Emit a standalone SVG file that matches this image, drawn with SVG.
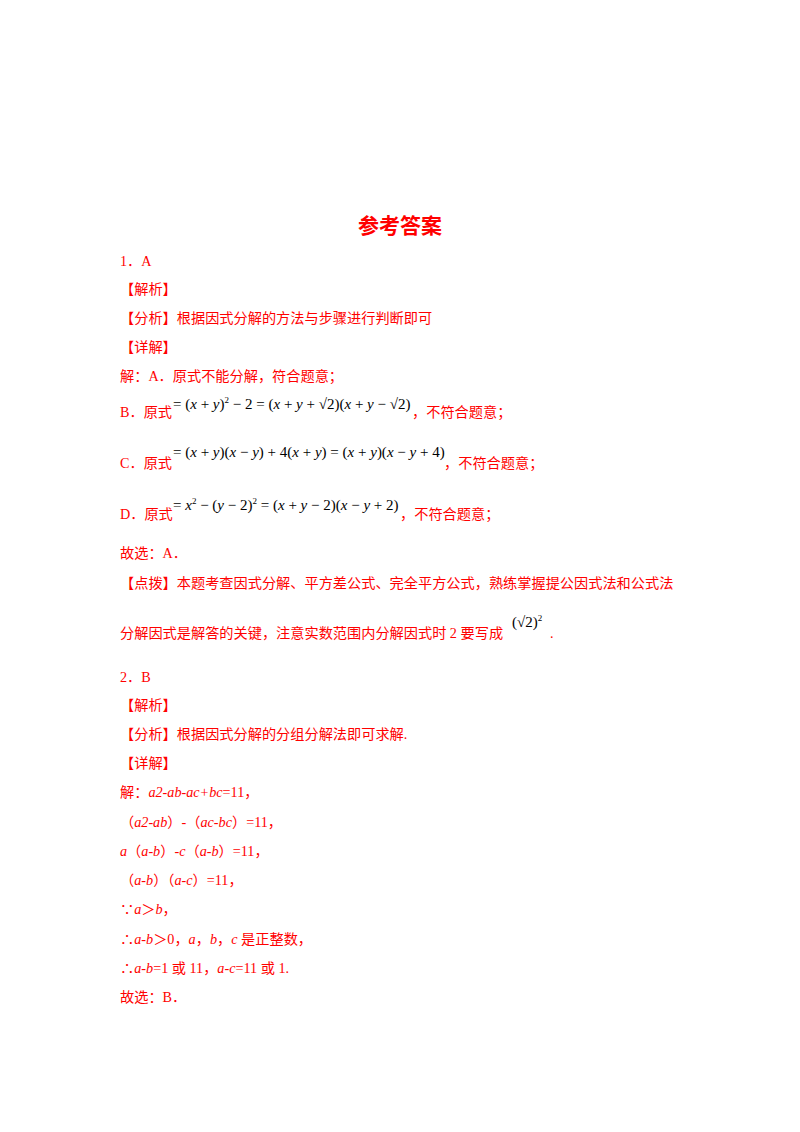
<svg xmlns="http://www.w3.org/2000/svg" width="800" height="1132" viewBox="0 0 800 1132">
<style>
text{font-family:"Liberation Serif","Noto Sans CJK SC",serif;font-size:14.2px;fill:#ff0000}
.t{font-size:21px;font-weight:bold}
.m{fill:#000;font-size:15px}
.s{fill:#000;font-size:9px}
</style>
<rect width="800" height="1132" fill="#fff"/>
<g id="content">
<text class="t" x="400" y="233" text-anchor="middle">参考答案</text>
<text x="120" y="266">1．A</text>
<text x="120" y="294">【解析】</text>
<text x="120" y="323">【分析】根据因式分解的方法与步骤进行判断即可</text>
<text x="120" y="352">【详解】</text>
<text x="120" y="381">解：A．原式不能分解，符合题意；</text>
<text x="120" y="417">B．原式</text>
<text class="m" x="173" y="409">= (<tspan font-style="italic">x</tspan> + <tspan font-style="italic">y</tspan>)<tspan class="s" dy="-6">2</tspan><tspan dy="6"> − 2 = (</tspan><tspan font-style="italic">x</tspan> + <tspan font-style="italic">y</tspan> + √2)(<tspan font-style="italic">x</tspan> + <tspan font-style="italic">y</tspan> − √2)</text>
<text x="412" y="417">，不符合题意；</text>
<text x="120" y="468">C．原式</text>
<text class="m" x="173" y="457">= (<tspan font-style="italic">x</tspan> + <tspan font-style="italic">y</tspan>)(<tspan font-style="italic">x</tspan> − <tspan font-style="italic">y</tspan>) + 4(<tspan font-style="italic">x</tspan> + <tspan font-style="italic">y</tspan>) = (<tspan font-style="italic">x</tspan> + <tspan font-style="italic">y</tspan>)(<tspan font-style="italic">x</tspan> − <tspan font-style="italic">y</tspan> + 4)</text>
<text x="444" y="468">，不符合题意；</text>
<text x="120" y="519">D．原式</text>
<text class="m" x="173" y="510">= <tspan font-style="italic">x</tspan><tspan class="s" dy="-6">2</tspan><tspan dy="6"> − (</tspan><tspan font-style="italic">y</tspan> − 2)<tspan class="s" dy="-6">2</tspan><tspan dy="6"> = (</tspan><tspan font-style="italic">x</tspan> + <tspan font-style="italic">y</tspan> − 2)(<tspan font-style="italic">x</tspan> − <tspan font-style="italic">y</tspan> + 2)</text>
<text x="400" y="519">，不符合题意；</text>
<text x="120" y="558">故选：A．</text>
<text x="120" y="588">【点拨】本题考查因式分解、平方差公式、完全平方公式，熟练掌握提公因式法和公式法</text>
<text x="120" y="638">分解因式是解答的关键，注意实数范围内分解因式时 2 要写成</text>
<text class="m" x="512" y="627">(√2)<tspan class="s" dy="-6">2</tspan></text>
<text x="550" y="638">.</text>
<text x="120" y="682">2．B</text>
<text x="120" y="710">【解析】</text>
<text x="120" y="739">【分析】根据因式分解的分组分解法即可求解.</text>
<text x="120" y="768">【详解】</text>
<text x="120" y="797">解：<tspan font-style="italic">a2-ab-ac+bc</tspan>=11，</text>
<text x="120" y="827">（<tspan font-style="italic">a2-ab</tspan>）-（<tspan font-style="italic">ac-bc</tspan>）=11，</text>
<text x="120" y="856"><tspan font-style="italic">a</tspan>（<tspan font-style="italic">a-b</tspan>）-<tspan font-style="italic">c</tspan>（<tspan font-style="italic">a-b</tspan>）=11，</text>
<text x="120" y="885">（<tspan font-style="italic">a-b</tspan>）（<tspan font-style="italic">a-c</tspan>）=11，</text>
<text x="120" y="914">∵<tspan font-style="italic">a</tspan>＞<tspan font-style="italic">b</tspan>，</text>
<text x="120" y="944">∴<tspan font-style="italic">a-b</tspan>＞0，<tspan font-style="italic">a</tspan>，<tspan font-style="italic">b</tspan>，<tspan font-style="italic">c</tspan> 是正整数，</text>
<text x="120" y="973">∴<tspan font-style="italic">a-b</tspan>=1 或 11，<tspan font-style="italic">a-c</tspan>=11 或 1.</text>
<text x="120" y="1002">故选：B．</text>
</g>
</svg>
